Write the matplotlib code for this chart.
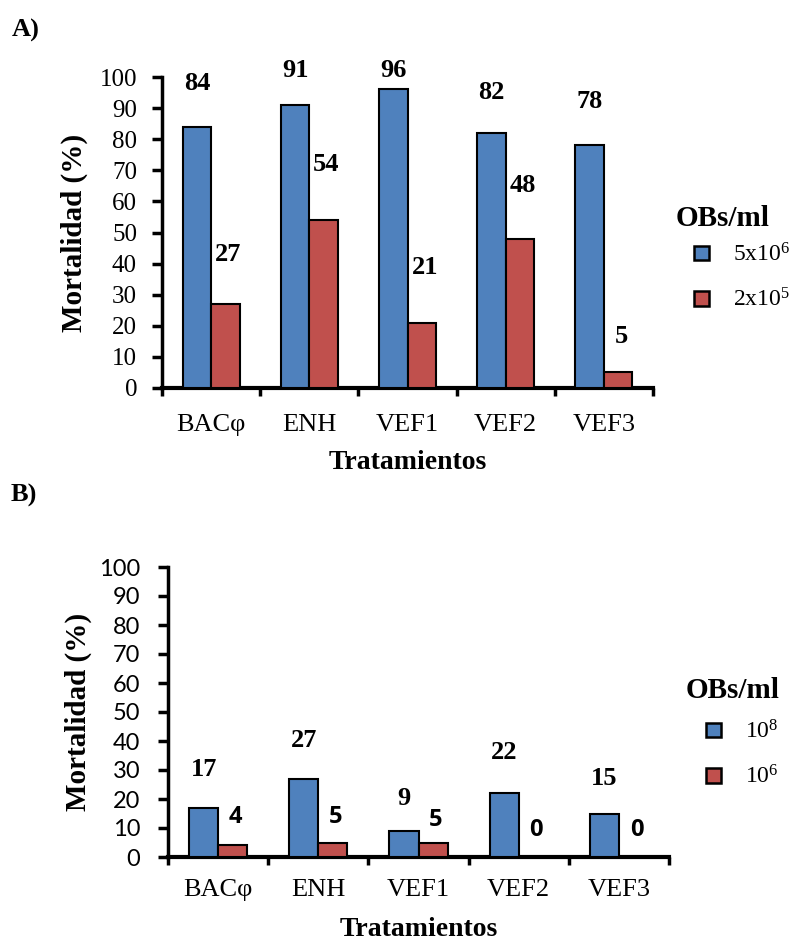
import matplotlib
matplotlib.use("Agg")
import matplotlib.pyplot as plt
import numpy as np
from matplotlib.patches import Patch

plt.rcParams['font.family'] = ['Liberation Serif', 'DejaVu Serif']
plt.rcParams['mathtext.fontset'] = 'custom'
plt.rcParams['mathtext.rm'] = 'Liberation Serif'
plt.rcParams['mathtext.it'] = 'Liberation Serif'

categories = ["BACφ", "ENH", "VEF1", "VEF2", "VEF3"]
yticks = [0, 10, 20, 30, 40, 50, 60, 70, 80, 90, 100]

# Panel A
a_high = [84, 91, 96, 82, 78]
a_low = [27, 54, 21, 48, 5]
a_labels = ["5x10$^{6}$", "2x10$^{5}$"]
# Panel B
b_high = [17, 27, 9, 22, 15]
b_low = [4, 5, 5, 0, 0]
b_labels = ["10$^{8}$", "10$^{6}$"]

# label heights (layout, in data units)
a_high_lab_y = [98, 102, 102, 95, 92]
a_low_lab_y = [43, 72, 38.6, 65, 16.7]
b_high_lab_y = [30, 40.3, 20.3, 35.9, 27]
b_low_lab_y = [13.8, 13.8, 12.8, 9.3, 9.3]

BLUE = "#4F81BD"
RED = "#C0504D"
W, H = 790, 940

fig = plt.figure(figsize=(7.9, 9.4), dpi=100)


def fx(px):
    return px / W


def fy(py):
    return 1 - py / H


def panel(rect, high, low, hy, ly, leg_labels, ytick_font, ytick_size, ytick_pad,
          low_lab_font, xpad, xlabpad, ylabpad, leg_pos, title_pos):
    ax = fig.add_axes(rect)
    x = np.arange(len(categories))
    w = 0.29
    ax.bar(x - w / 2, high, w, color=BLUE, edgecolor='black', linewidth=1.5, zorder=3)
    ax.bar(x + w / 2, low, w, color=RED, edgecolor='black', linewidth=1.5, zorder=3)
    for i in range(len(categories)):
        ax.text(x[i] - w / 2, hy[i], str(high[i]), ha='center', va='center',
                fontsize=19, fontweight='bold')
        ax.text(x[i] + w / 2 + 0.03, ly[i], str(low[i]), ha='center', va='center',
                fontsize=19 if low_lab_font is None else 17, fontweight='bold',
                family=low_lab_font if low_lab_font else ['Liberation Serif'])
    ax.set_xlim(-0.5, len(categories) - 0.5)
    ax.set_ylim(0, 100)
    ax.set_yticks(yticks)
    ax.set_yticklabels([str(t) for t in yticks], fontsize=ytick_size,
                       family=ytick_font if ytick_font else ['Liberation Serif'])
    ax.set_xticks(x)
    ax.set_xticklabels(categories, fontsize=19)
    ax.set_xticks(np.arange(-0.5, len(categories)), minor=True)
    ax.tick_params(axis='x', which='major', length=0, pad=xpad)
    ax.tick_params(axis='x', which='minor', length=6, width=2.5, direction='out')
    ax.tick_params(axis='y', length=7, width=2.5, direction='out', pad=ytick_pad)
    for s in ['top', 'right']:
        ax.spines[s].set_visible(False)
    ax.spines['left'].set_linewidth(2.5)
    ax.spines['bottom'].set_linewidth(3)
    ax.set_ylabel("Mortalidad (%)", fontsize=21, fontweight='bold', labelpad=ylabpad)
    ax.set_xlabel("Tratamientos", fontsize=20, fontweight='bold', labelpad=xlabpad)
    handles = [Patch(facecolor=BLUE, edgecolor='black', linewidth=1.8),
               Patch(facecolor=RED, edgecolor='black', linewidth=1.8)]
    fig.legend(handles, leg_labels, loc='upper left',
               bbox_to_anchor=(fx(leg_pos[0]), fy(leg_pos[1])),
               frameon=False, fontsize=17, handlelength=0.62, handleheight=0.57,
               handletextpad=1.05, labelspacing=0.95, borderpad=0, borderaxespad=0)
    fig.text(fx(title_pos[0]), fy(title_pos[1]), "OBs/ml", fontsize=21,
             fontweight='bold', ha='center', va='center')
    return ax


axA = panel([fx(162), fy(388), fx(653) - fx(162), fy(77) - fy(388)],
            a_high, a_low, a_high_lab_y, a_low_lab_y, a_labels, None, 18, 11, None,
            19, 10, 8, (694, 243), (723, 218))
axB = panel([fx(168), fy(857), fx(669) - fx(168), fy(567) - fy(857)],
            b_high, b_low, b_high_lab_y, b_low_lab_y, b_labels, ['Lato'], 17, 13,
            ['Open Sans'], 16, 11, 5, (706, 720), (733, 690))

fig.text(fx(12), fy(30), "A)", fontsize=19, fontweight='bold', va='center')
fig.text(fx(11), fy(495), "B)", fontsize=19, fontweight='bold', va='center')

fig.savefig("out.png", dpi=100)
